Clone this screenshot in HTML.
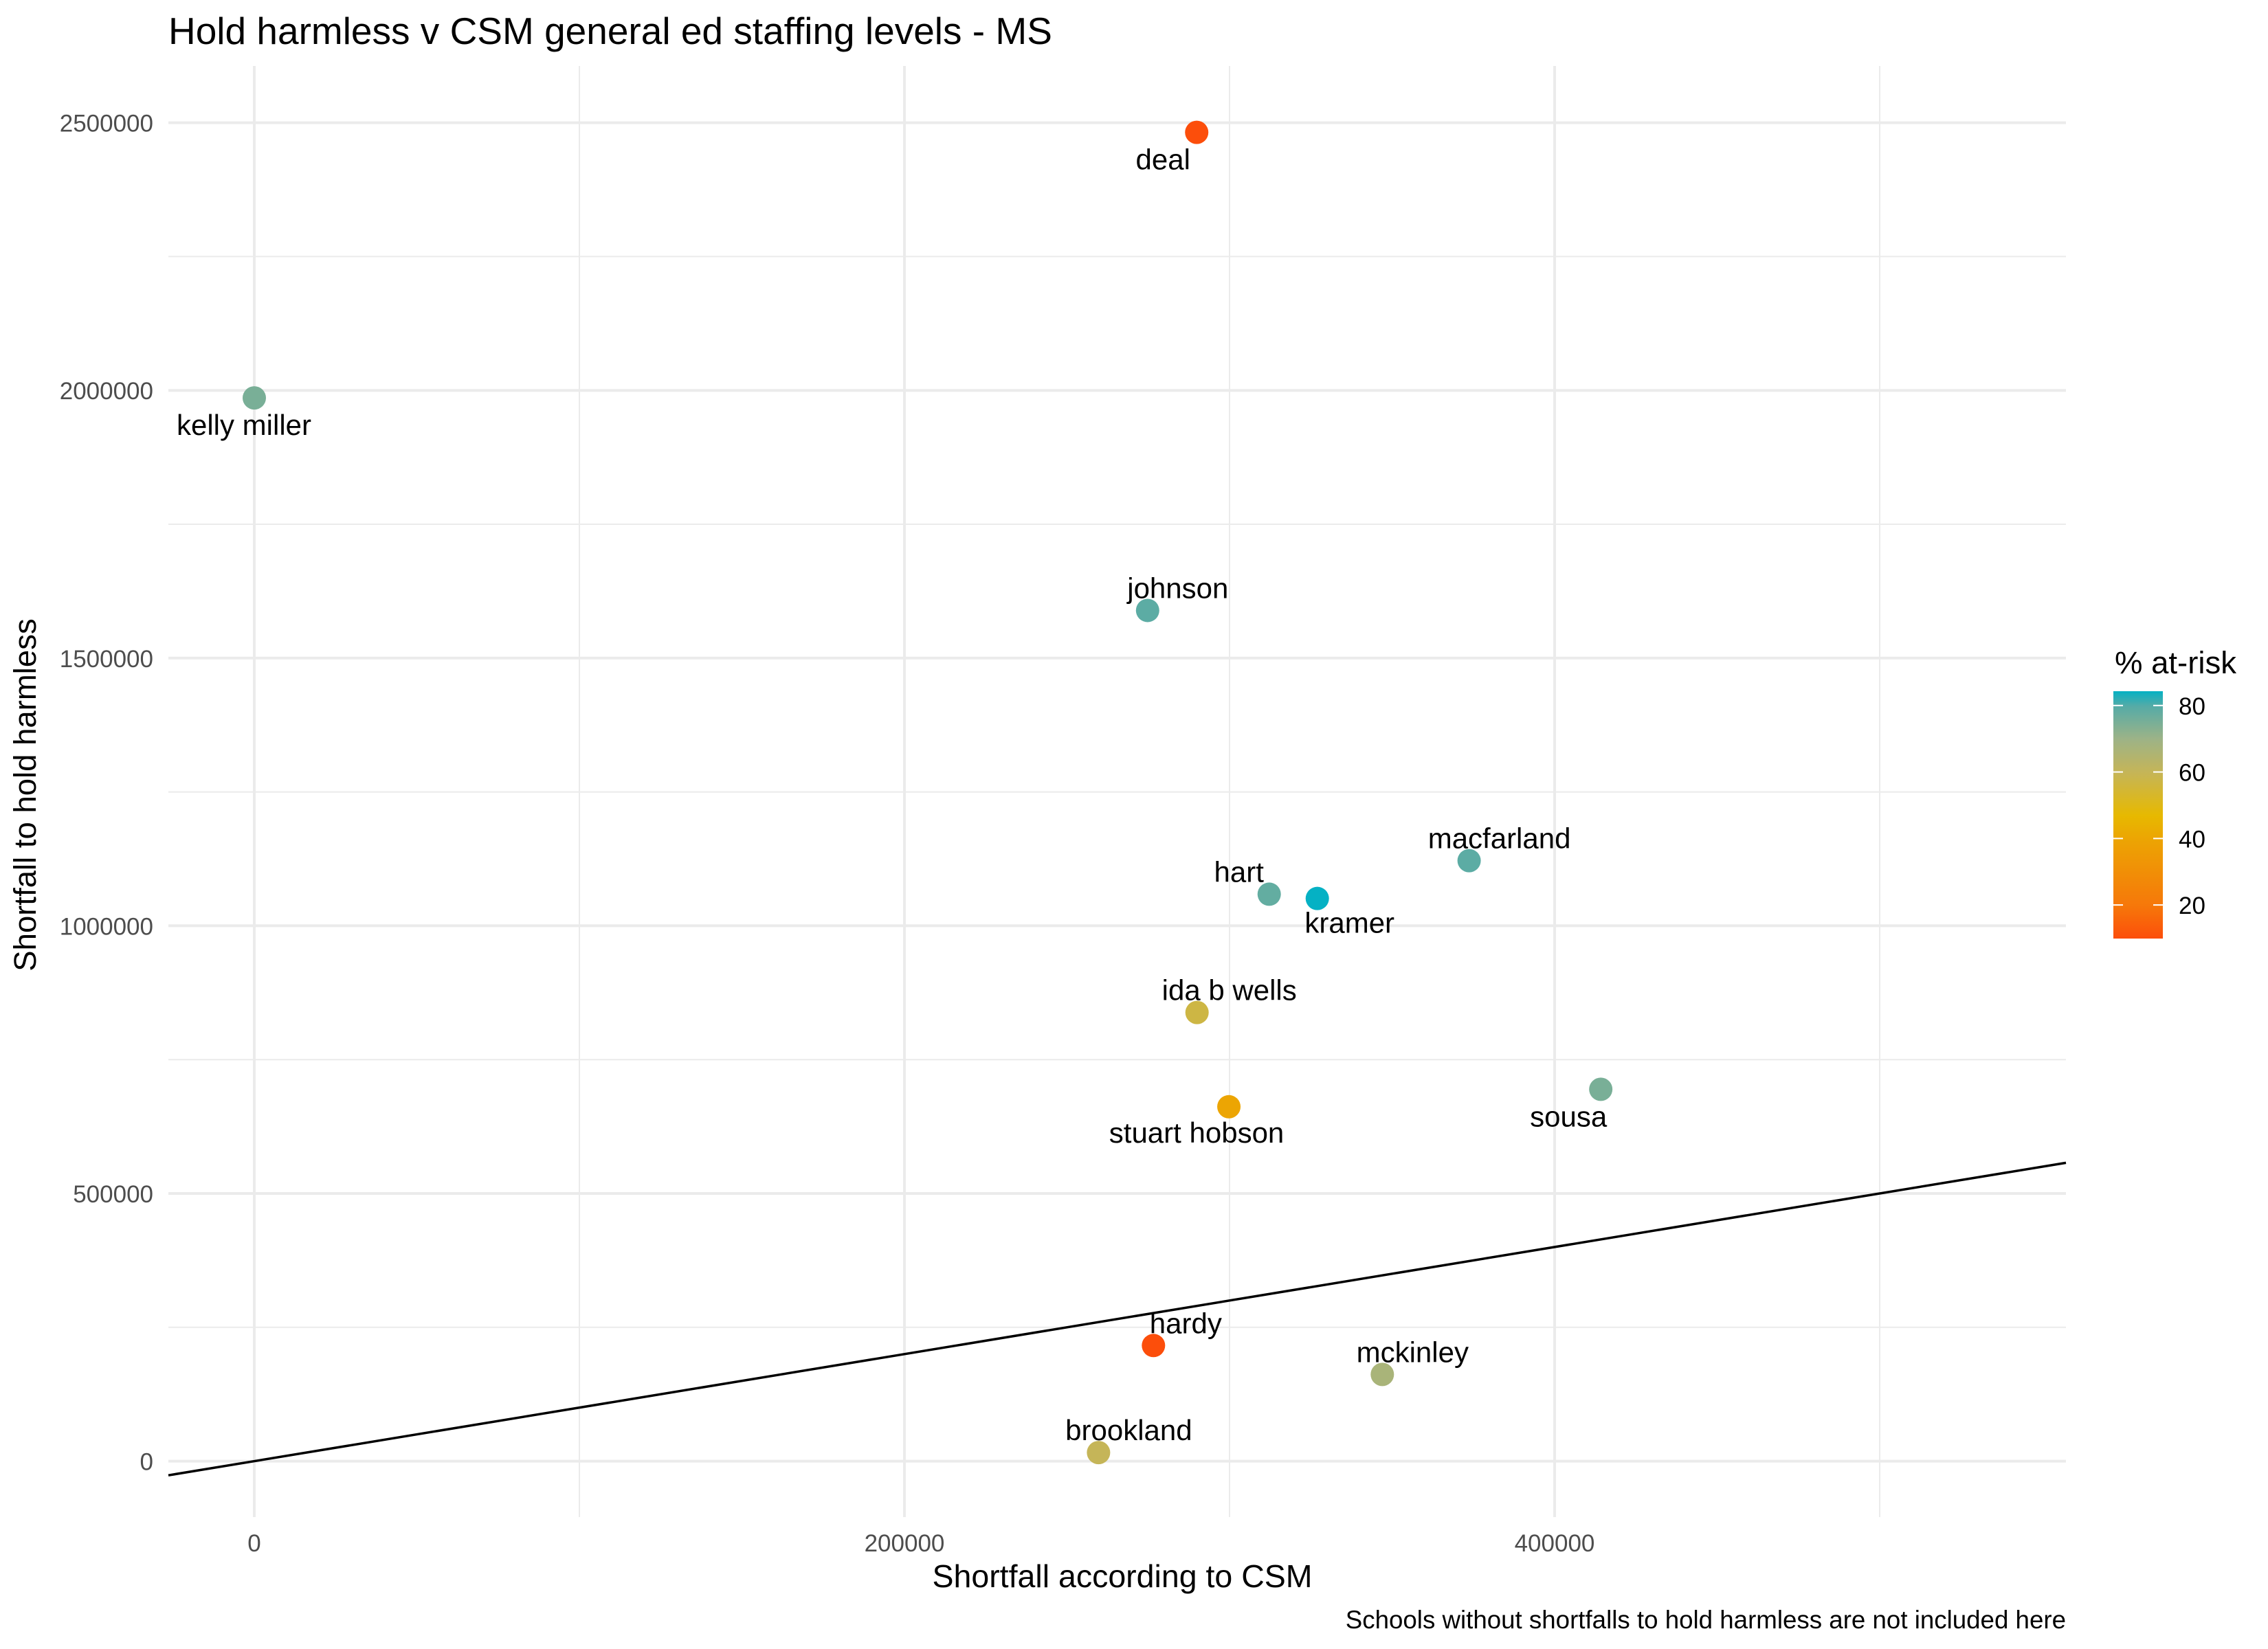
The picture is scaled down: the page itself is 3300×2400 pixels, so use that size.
<!DOCTYPE html>
<html><head><meta charset="utf-8"><style>
html,body{margin:0;padding:0;background:#fff;}
svg{display:block;font-family:"Liberation Sans",Arial,sans-serif;}
</style></head><body>
<svg id="chart" width="3300" height="2400" viewBox="0 0 3300 2400" xmlns="http://www.w3.org/2000/svg">
<defs>
<linearGradient id="grad" x1="0" y1="1" x2="0" y2="0">
<stop offset="0" stop-color="#fc4e0b"/>
<stop offset="0.134" stop-color="#f6780a"/>
<stop offset="0.403" stop-color="#eca503"/>
<stop offset="0.497" stop-color="#e7b900"/>
<stop offset="0.672" stop-color="#c5b558"/>
<stop offset="0.806" stop-color="#9db387"/>
<stop offset="0.94" stop-color="#55aba7"/>
<stop offset="1" stop-color="#05b1c4"/>
</linearGradient>
</defs>
<text x="245" y="64" font-size="55" fill="#000">Hold harmless v CSM general ed staffing levels - MS</text>
<g id="grid"></g>
<g id="ref"></g>
<g id="points"></g>
<g id="labels"></g>
<g id="axes"></g>
<text x="1633" y="2310" font-size="46.5" text-anchor="middle" fill="#000">Shortfall according to CSM</text>
<text transform="translate(52,1157) rotate(-90)" font-size="45.5" text-anchor="middle" fill="#000">Shortfall to hold harmless</text>
<text x="3006" y="2370" font-size="36.7" text-anchor="end" fill="#000">Schools without shortfalls to hold harmless are not included here</text>
<g>
<text x="3077" y="980" font-size="45.5" fill="#000">% at-risk</text>
<rect x="3075" y="1006" width="72" height="360" fill="url(#grad)"/>
<g id="legendticks"></g>
</g>
</svg>
<script>
const names = ["deal","kelly miller","johnson","hart","kramer","macfarland","ida b wells","stuart hobson","sousa","hardy","mckinley","brookland"];
const csm = [289900,0,274800,312200,327000,373700,290000,299800,414200,276600,347000,259700];
const hold = [2482000,1986000,1589000,1059000,1051000,1121600,838000,662000,694600,216000,162000,16000];
const atRisk = [10,75,79,78,85,79,57,40,75,10,67,60];
const xTicks = [0,200000,400000];
const yTicks = [0,500000,1000000,1500000,2000000,2500000];
const legendTicks = [20,40,60,80];
// label offsets (styling only)
const lblOff = [[-49,40],[-15,40],[44,-32],[-44,-32],[47,36],[44,-32],[47,-32],[-47,38],[-47,40],[47,-32],[44,-32],[44,-32]];

const X0=370, XS=473/100000, Y0=2126.6, YS=389.6/500000;
const PL=245, PR=3006, PT=96, PB=2208;
const sx=v=>X0+v*XS, sy=v=>Y0-v*YS;
const ns="http://www.w3.org/2000/svg";
function mk(tag,attrs,parent){const e=document.createElementNS(ns,tag);for(const k in attrs)e.setAttribute(k,attrs[k]);parent.appendChild(e);return e;}

const stops=[[10,[252,78,11]],[20,[246,120,10]],[40,[236,165,3]],[47,[231,185,0]],[60,[197,181,88]],[70,[157,179,135]],[80,[85,171,167]],[84.3,[5,177,196]]];
function col(v){
  if(v<=stops[0][0])return `rgb(${stops[0][1]})`;
  for(let i=1;i<stops.length;i++){if(v<=stops[i][0]){const a=stops[i-1],b=stops[i],t=(v-a[0])/(b[0]-a[0]);
    return `rgb(${a[1].map((c,j)=>Math.round(c+(b[1][j]-c)*t)).join(',')})`;}}
  return `rgb(${stops[stops.length-1][1]})`;
}

const grid=document.getElementById('grid');
for(let v=-100000;v<=600000;v+=100000){if(v%200000===0)continue;const x=sx(v);if(x<PL||x>PR)continue;
  const l=mk('line',{x1:x,x2:x,y1:PT,y2:PB,stroke:'#ebebeb','stroke-width':2},grid);
  
  }
for(let v=-250000;v<=2750000;v+=500000){const y=sy(v);if(y<PT||y>PB)continue;
  const l=mk('line',{x1:PL,x2:PR,y1:y,y2:y,stroke:'#ebebeb','stroke-width':2},grid);
  
  }
const axes=document.getElementById('axes');
xTicks.forEach(v=>{const x=sx(v);
  const l=mk('line',{x1:x,x2:x,y1:PT,y2:PB,stroke:'#ebebeb','stroke-width':4},grid);
  
  
  const t=mk('text',{x:x,y:2258,'font-size':35,'text-anchor':'middle',fill:'#4d4d4d'},axes);t.textContent=v;
  
  });
yTicks.forEach(v=>{const y=sy(v);
  const l=mk('line',{x1:PL,x2:PR,y1:y,y2:y,stroke:'#ebebeb','stroke-width':4},grid);
  
  
  const t=mk('text',{x:223,y:y+13,'font-size':35,'text-anchor':'end',fill:'#4d4d4d'},axes);t.textContent=v;
  
  });

const xa=(PL-X0)/XS, xb=(PR-X0)/XS;
const rl=mk('line',{x1:sx(xa),y1:sy(xa),x2:sx(xb),y2:sy(xb),stroke:'#000','stroke-width':3.5},document.getElementById('ref'));



const pg=document.getElementById('points'), lg=document.getElementById('labels');
names.forEach((n,i)=>{
  const cx=sx(csm[i]), cy=sy(hold[i]);
  const c=mk('circle',{cx:cx,cy:cy,r:17,fill:col(atRisk[i])},pg);
  
  
  const t=mk('text',{x:cx+lblOff[i][0],y:cy+lblOff[i][1]+14,'font-size':42,'text-anchor':'middle',fill:'#000'},lg);
  t.textContent=n;
  
  
});

const lt=document.getElementById('legendticks');
const LB=1366, LT=1006, LMIN=9.9, LMAX=84.3;
legendTicks.forEach(v=>{const y=LB-(v-LMIN)/(LMAX-LMIN)*(LB-LT);
  const a=mk('line',{x1:3075,x2:3089,y1:y,y2:y,stroke:'#fff','stroke-width':2},lt);
  
  
  const b=mk('line',{x1:3133,x2:3147,y1:y,y2:y,stroke:'#fff','stroke-width':2},lt);
  
  
  const t=mk('text',{x:3170,y:y+13,'font-size':35,fill:'#000'},lt);t.textContent=v;
  
  });
</script>
</body></html>
